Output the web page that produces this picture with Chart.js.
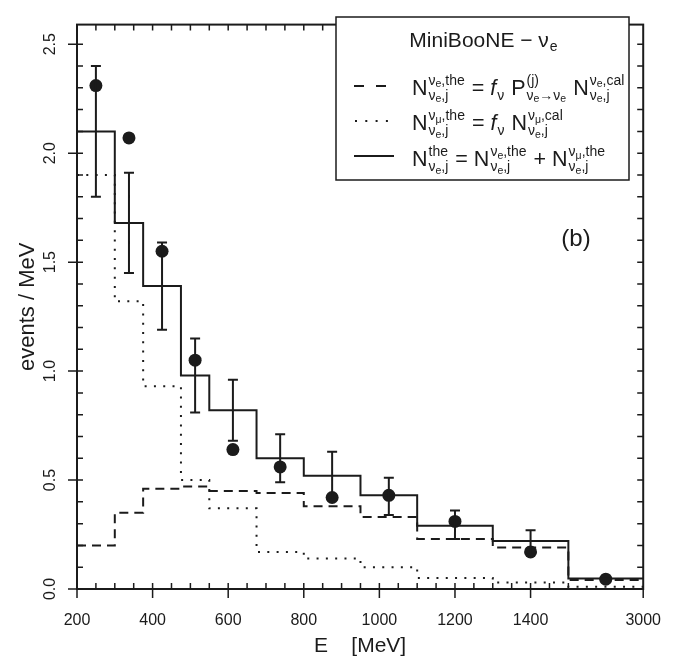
<!DOCTYPE html>
<html>
<head>
<meta charset="utf-8">
<script src="https://cdn.jsdelivr.net/npm/chart.js@4.4.1/dist/chart.umd.min.js"></script>
<style>
  body { margin: 0; background: #fff; }
  #wrap { width: 683px; height: 660px; }
</style>
</head>
<body>
<div id="wrap"><canvas id="c"></canvas></div>
<script>
// bin edges (MeV) and predicted spectra (events / MeV)
const binEdges = [200, 300, 375, 475, 550, 675, 800, 950, 1100, 1300, 1500, 3000];
const totalThe = [2.10, 1.68, 1.39, 0.98, 0.82, 0.60, 0.52, 0.43, 0.29, 0.22, 0.048];
const nueThe   = [0.20, 0.35, 0.46, 0.47, 0.45, 0.44, 0.38, 0.33, 0.23, 0.19, 0.041];
const numuThe  = [1.90, 1.32, 0.93, 0.50, 0.37, 0.17, 0.14, 0.10, 0.05, 0.03, 0.01];

// measured points
const dataE   = [250, 337.5, 425, 512.5, 612.5, 737.5, 875, 1025, 1200, 1400, 2250];
const dataVal = [2.31, 2.07, 1.55, 1.05, 0.64, 0.56, 0.42, 0.43, 0.31, 0.17, 0.045];
const errHi   = [2.40, 1.91, 1.59, 1.15, 0.96, 0.71, 0.63, 0.51, 0.36, 0.27, null];
const errLo   = [1.80, 1.45, 1.19, 0.81, 0.68, 0.49, 0.41, 0.34, 0.23, 0.16, null];

const xTickE = [200, 400, 600, 800, 1000, 1200, 1400, 3000];
const xTickLabels = ['200', '400', '600', '800', '1000', '1200', '1400', '3000'];
const yTicks = [0, 0.5, 1.0, 1.5, 2.0, 2.5];

// axis is linear up to 1500 MeV, the last bin is squeezed
function xu(e) { return e <= 1500 ? e : 1500 + (e - 1500) * 0.132; }

const INK = '#1b1b1b';
const FONT = '"Liberation Sans", Arial, sans-serif';

function histo(vals) {
    return binEdges.map((e, i) => ({ x: xu(e), y: vals[Math.min(i, vals.length - 1)] }));
}

// frame with inner/outer ticks, plus error bars
const framePlugin = {
    id: 'frame',
    afterDatasetsDraw(chart) {
        const { ctx, chartArea: a, scales: { x, y } } = chart;
        ctx.save();
        ctx.strokeStyle = INK;
        ctx.lineWidth = 2;
        ctx.strokeRect(a.left, a.top, a.right - a.left, a.bottom - a.top);
        ctx.lineWidth = 1.5;
        ctx.beginPath();
        for (let e = 200; e <= 1500; e += 50) {
            const px = x.getPixelForValue(xu(e));
            const major = xTickE.includes(e);
            ctx.moveTo(px, a.bottom + (major ? 9 : 0)); ctx.lineTo(px, a.bottom - 6);
            ctx.moveTo(px, a.top); ctx.lineTo(px, a.top + 6);
        }
        const pr = x.getPixelForValue(xu(3000));
        ctx.moveTo(pr, a.bottom); ctx.lineTo(pr, a.bottom + 9);
        for (let i = 0; i <= 25; i++) {
            const py = y.getPixelForValue(i / 10);
            const major = i % 5 === 0;
            ctx.moveTo(a.left - (major ? 9 : 0), py); ctx.lineTo(a.left + 6, py);
            ctx.moveTo(a.right, py); ctx.lineTo(a.right - 6, py);
        }
        ctx.stroke();

        ctx.lineWidth = 2;
        ctx.beginPath();
        dataE.forEach((e, i) => {
            if (errHi[i] === null) return;
            const px = x.getPixelForValue(xu(e));
            const hi = y.getPixelForValue(errHi[i]);
            const lo = y.getPixelForValue(errLo[i]);
            ctx.moveTo(px, hi); ctx.lineTo(px, lo);
            ctx.moveTo(px - 5, hi); ctx.lineTo(px + 5, hi);
            ctx.moveTo(px - 5, lo); ctx.lineTo(px + 5, lo);
        });
        ctx.stroke();
        ctx.restore();
    }
};

// legend box with formulas
const F0 = 21.5, F1 = 14, F2 = 10.5;
function fnt(sz, it) { return (it ? 'italic ' : '') + sz + 'px ' + FONT; }
function runW(ctx, parts) {
    let w = 0;
    for (const [t, l] of parts) { ctx.font = fnt(l === 2 ? F2 : F1); w += ctx.measureText(t).width; }
    return w;
}
function drawRun(ctx, x, y, parts) {
    for (const [t, l] of parts) {
        ctx.font = fnt(l === 2 ? F2 : F1);
        ctx.fillText(t, x, y + (l === 2 ? 2.5 : 0));
        x += ctx.measureText(t).width;
    }
}
function drawFormula(ctx, x, y, tokens) {
    for (const tk of tokens) {
        if (tk.t !== undefined) {
            ctx.font = fnt(F0, tk.it);
            ctx.fillText(tk.t, x, y);
            x += ctx.measureText(tk.t).width;
        } else {
            const ws = tk.sup ? runW(ctx, tk.sup) : 0;
            const wb = tk.sub ? runW(ctx, tk.sub) : 0;
            if (tk.sup) drawRun(ctx, x + 1, y - 10, tk.sup);
            if (tk.sub) drawRun(ctx, x + 1, y + 5, tk.sub);
            x += Math.max(ws, wb) + 2;
        }
    }
}
const subEJ = [['ν', 1], ['e', 2], [',j', 1]];
const rows = [
    [{ t: 'N' }, { sup: [['ν', 1], ['e', 2], [',the', 1]], sub: subEJ }, { t: ' = ' }, { t: 'f', it: true },
     { sub: [['ν', 1]] }, { t: ' P' }, { sup: [['(j)', 1]], sub: [['ν', 1], ['e', 2], ['→', 1], ['ν', 1], ['e', 2]] },
     { t: ' N' }, { sup: [['ν', 1], ['e', 2], [',cal', 1]], sub: subEJ }],
    [{ t: 'N' }, { sup: [['ν', 1], ['μ', 2], [',the', 1]], sub: subEJ }, { t: ' = ' }, { t: 'f', it: true },
     { sub: [['ν', 1]] }, { t: ' N' }, { sup: [['ν', 1], ['μ', 2], [',cal', 1]], sub: subEJ }],
    [{ t: 'N' }, { sup: [['the', 1]], sub: subEJ }, { t: ' = N' }, { sup: [['ν', 1], ['e', 2], [',the', 1]], sub: subEJ },
     { t: ' + N' }, { sup: [['ν', 1], ['μ', 2], [',the', 1]], sub: subEJ }]
];

const legendPlugin = {
    id: 'formulaLegend',
    afterDraw(chart) {
        const ctx = chart.ctx;
        ctx.save();
        ctx.fillStyle = '#fff';
        ctx.fillRect(336, 17, 293, 163);
        ctx.strokeStyle = INK;
        ctx.lineWidth = 1.5;
        ctx.strokeRect(336, 17, 293, 163);
        ctx.fillStyle = INK;
        ctx.textBaseline = 'alphabetic';
        const tt = 'MiniBooNE − ν';
        ctx.font = fnt(21);
        const w1 = ctx.measureText(tt).width;
        ctx.font = fnt(14);
        const w2 = ctx.measureText('e').width;
        const tx = 483 - (w1 + w2) / 2;
        ctx.font = fnt(21);
        ctx.fillText(tt, tx, 47);
        ctx.font = fnt(14);
        ctx.fillText('e', tx + w1 + 1, 51);

        const base = [94.5, 130, 166];
        const ly = [86, 121, 156];
        const seg = [[354, 386], [355, 388], [354, 394]];
        const dashes = [[10, 12], [2, 8.3], []];
        ctx.lineWidth = 2;
        ly.forEach((yy, i) => {
            ctx.setLineDash(dashes[i]);
            ctx.beginPath(); ctx.moveTo(seg[i][0], yy); ctx.lineTo(seg[i][1], yy); ctx.stroke();
        });
        ctx.setLineDash([]);
        rows.forEach((r, i) => drawFormula(ctx, 412, base[i], r));

        ctx.font = fnt(24);
        ctx.textAlign = 'center';
        ctx.fillText('(b)', 576, 246);
        ctx.restore();
    }
};

new Chart(document.getElementById('c'), {
    type: 'line',
    data: {
        datasets: [
            { data: histo(numuThe), stepped: 'before', borderColor: INK, borderWidth: 2, borderDash: [2, 7.3], pointRadius: 0, fill: false },
            { data: histo(nueThe), stepped: 'before', borderColor: INK, borderWidth: 2, borderDash: [9, 6], pointRadius: 0, fill: false },
            { data: histo(totalThe), stepped: 'before', borderColor: INK, borderWidth: 2, pointRadius: 0, fill: false },
            { data: dataE.map((e, i) => ({ x: xu(e), y: dataVal[i] })), showLine: false, pointRadius: 6.5,
              pointBackgroundColor: INK, pointBorderWidth: 0, borderColor: INK }
        ]
    },
    options: {
        responsive: true,
        maintainAspectRatio: false,
        animation: false,
        layout: { padding: { top: 2, right: 39, left: 0, bottom: 0 } },
        plugins: { legend: { display: false }, tooltip: { enabled: false } },
        scales: {
            x: {
                type: 'linear', min: 200, max: xu(3000),
                grid: { display: false, drawTicks: false },
                border: { display: false },
                afterBuildTicks: s => { s.ticks = xTickE.map(e => ({ value: xu(e) })); },
                afterFit: s => { s.height = 71; },
                ticks: {
                    padding: 22, color: INK, font: { size: 16, family: FONT },
                    maxRotation: 0, autoSkip: false,
                    callback: (v, i) => xTickLabels[i]
                },
                title: { display: true, text: 'E    [MeV]', color: INK, font: { size: 21, family: FONT }, padding: { bottom: 1 } }
            },
            y: {
                min: 0, max: 2.59,
                grid: { display: false, drawTicks: false },
                border: { display: false },
                afterBuildTicks: s => { s.ticks = yTicks.map(v => ({ value: v })); },
                afterFit: s => { s.width = 77; },
                ticks: {
                    padding: 15, color: INK, font: { size: 16, family: FONT },
                    minRotation: 90, maxRotation: 90, crossAlign: 'center', autoSkip: false,
                    callback: v => v.toFixed(1)
                },
                title: { display: true, text: 'events / MeV', color: INK, font: { size: 22, family: FONT }, padding: { top: 15 } }
            }
        }
    },
    plugins: [framePlugin, legendPlugin]
});
</script>
</body>
</html>
